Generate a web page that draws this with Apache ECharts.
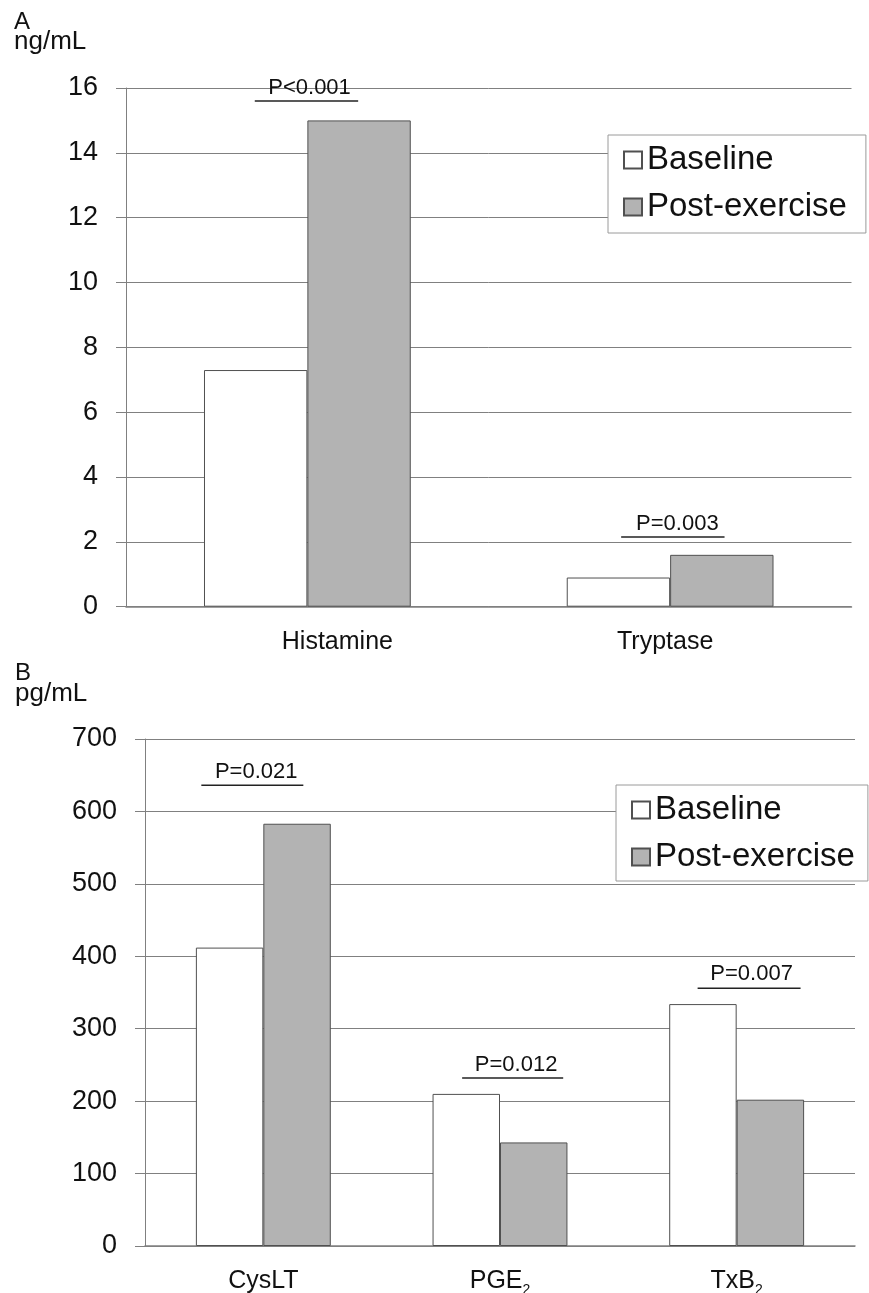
<!DOCTYPE html>
<html><head><meta charset="utf-8">
<script src="https://cdn.jsdelivr.net/npm/echarts@6.0.0/dist/echarts.min.js"></script>
<style>html,body{margin:0;padding:0;background:#fff}#c{width:869px;height:1293px}</style>
</head><body><div id="c"></div>
<script>
// ---------- data ----------
const seriesNames = ['Baseline', 'Post-exercise'];

const categoriesA = ['Histamine', 'Tryptase'];
const baselineA = [7.3, 0.9];
const postExerciseA = [15.0, 1.6];
const yTicksA = [0, 2, 4, 6, 8, 10, 12, 14, 16];
const pLabelsA = ['P<0.001', 'P=0.003'];
const pLineValuesA = [15.6, 2.15];
const pTextValuesA = [16.0, 2.55];

const categoriesB = ['CysLT', 'PGE₂', 'TxB₂'];
const baselineB = [412, 210, 334];
const postExerciseB = [583, 143, 202];
const yTicksB = [0, 100, 200, 300, 400, 500, 600, 700];
const pLabelsB = ['P=0.021', 'P=0.012', 'P=0.007'];
const pLineValuesB = [636, 232, 356];
const pTextValuesB = [655, 250, 375];

// ---------- layout ----------
// bracket: [line start, line end, text centre] as fractions of a category band
const bracketA = [[-0.145, 0.14, 0.006], [-0.135, 0.15, 0.02]];
const bracketB = [[-0.262, 0.169, -0.03], [-0.16, 0.267, 0.068], [-0.165, 0.27, 0.063]];
// horizontal label padding [left, right] per category (px)
const labelPadA = [[60, 0], [0, 10]];
const labelPadB = [[0, 0], [0, 0], [0, 0]];

const FONT = "'Liberation Sans', Arial, Helvetica, sans-serif";
const GRID_C = '#808080';
const BAR_BORDER = '#505050';
const POST_FILL = '#b3b3b3';

function yAxisCfg(gi, ticks) {
  return {
    gridIndex: gi, type: 'value',
    min: ticks[0], max: ticks[ticks.length - 1], interval: ticks[1] - ticks[0],
    axisLine: { show: true, lineStyle: { color: GRID_C, width: 1 } },
    axisTick: { show: true, length: 10, lineStyle: { color: GRID_C } },
    splitLine: { show: true, lineStyle: { color: GRID_C, width: 1 } },
    axisLabel: { color: '#111', fontSize: 27, fontFamily: FONT, margin: 28 }
  };
}
function xAxisCfg(gi, cats, margin, pads) {
  const rich = { sub: { fontSize: 14, lineHeight: 14, fontFamily: FONT, color: '#111', padding: [18, 0, 0, 0] } };
  pads.forEach((p, i) => {
    rich['c' + i] = { fontSize: 25, lineHeight: 32, fontFamily: FONT, color: '#111', padding: [0, p[1], 0, p[0]] };
  });
  return {
    gridIndex: gi, type: 'category', data: cats,
    axisLine: { show: true, lineStyle: { color: GRID_C, width: 1.5 } },
    axisTick: { show: false },
    axisLabel: {
      color: '#111', fontSize: 25, lineHeight: 32, fontFamily: FONT, margin: margin, interval: 0,
      formatter: (v, idx) => {
        const m = v.match(/^(.*?)₂$/);
        return m ? '{c' + idx + '|' + m[1] + '}{sub|2}' : '{c' + idx + '|' + v + '}';
      },
      rich: rich
    }
  };
}
function barSeries(name, gi, data, fill) {
  return {
    name: name, type: 'bar', xAxisIndex: gi, yAxisIndex: gi, data: data,
    barGap: '0%', barCategoryGap: '43%',
    itemStyle: { color: fill, borderColor: BAR_BORDER, borderWidth: 1 },
    emphasis: { disabled: true }, animation: false
  };
}
function pSeries(gi, labels, lineVals, textVals, layout) {
  return {
    type: 'custom', xAxisIndex: gi, yAxisIndex: gi, z: 10, clip: false, silent: true,
    animation: false,
    data: labels.map((l, i) => [i, lineVals[i], textVals[i]]),
    renderItem: function (params, api) {
      const i = params.dataIndex;
      const ci = api.value(0);
      const bw = api.size([1, 0])[0];
      const lp = api.coord([ci, api.value(1)]);
      const tp = api.coord([ci, api.value(2)]);
      const L = layout[i];
      return {
        type: 'group',
        children: [
          { type: 'line', shape: { x1: lp[0] + L[0] * bw, y1: lp[1], x2: lp[0] + L[1] * bw, y2: lp[1] },
            style: { stroke: '#222', lineWidth: 1.5 } },
          { type: 'text', x: tp[0] + L[2] * bw, y: tp[1],
            style: { text: labels[i], fill: '#111', font: '22px ' + FONT, align: 'center', verticalAlign: 'middle' } }
        ]
      };
    }
  };
}
function legendCfg(left, top, pad) {
  return {
    data: seriesNames, orient: 'vertical', left: left, top: top,
    icon: 'rect', itemWidth: 18, itemHeight: 17, itemGap: 11,
    padding: pad, backgroundColor: '#fff', borderColor: '#9a9a9a', borderWidth: 1,
    textStyle: { fontSize: 33, fontFamily: FONT, color: '#111', lineHeight: 36 },
    selectedMode: false
  };
}

const chart = echarts.init(document.getElementById('c'), null, { renderer: 'canvas' });
chart.setOption({
  animation: false,
  backgroundColor: '#fff',
  grid: [
    { left: 126, top: 88, right: 17.5, bottom: 686.3, containLabel: false, outerBoundsMode: 'none' },
    { left: 145, top: 739, right: 14, bottom: 47, containLabel: false, outerBoundsMode: 'none' }
  ],
  xAxis: [xAxisCfg(0, categoriesA, 19, labelPadA), xAxisCfg(1, categoriesB, 19, labelPadB)],
  yAxis: [yAxisCfg(0, yTicksA), yAxisCfg(1, yTicksB)],
  legend: [legendCfg(608, 135, [7, 19, 8, 15]), legendCfg(616, 785, [7, 13, 6, 15])],
  series: [
    barSeries(seriesNames[0], 0, baselineA, '#ffffff'),
    barSeries(seriesNames[1], 0, postExerciseA, POST_FILL),
    barSeries(seriesNames[0], 1, baselineB, '#ffffff'),
    barSeries(seriesNames[1], 1, postExerciseB, POST_FILL),
    pSeries(0, pLabelsA, pLineValuesA, pTextValuesA, bracketA),
    pSeries(1, pLabelsB, pLineValuesB, pTextValuesB, bracketB)
  ],
  graphic: [
    { type: 'text', left: 14, top: 10, style: { text: 'A', font: '24px ' + FONT, fill: '#111' } },
    { type: 'text', left: 14, top: 29, style: { text: 'ng/mL', font: '26px ' + FONT, fill: '#111' } },
    { type: 'text', left: 15, top: 661, style: { text: 'B', font: '24px ' + FONT, fill: '#111' } },
    { type: 'text', left: 15, top: 681, style: { text: 'pg/mL', font: '26px ' + FONT, fill: '#111' } }
  ]
});
</script>
</body></html>
